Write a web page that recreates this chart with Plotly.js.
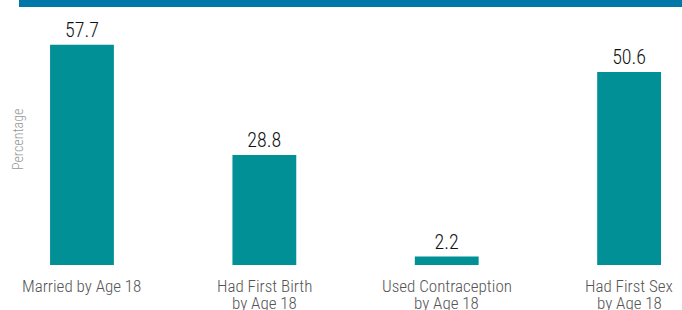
<!DOCTYPE html>
<html>
<head>
<meta charset="utf-8">
<script src="https://cdn.plot.ly/plotly-3.0.1.min.js"></script>
<style>
html,body{margin:0;padding:0;background:#fff;}
#chart{width:682px;height:310px;}
#chart text{font-stretch:condensed;}
</style>
</head>
<body>
<div id="chart"></div>
<script>
const categories = ["Married by Age 18", "Had First Birth by Age 18", "Used Contraception by Age 18", "Had First Sex by Age 18"];
const labelLine1 = ["Married by Age 18", "Had First Birth", "Used Contraception", "Had First Sex"];
const labelLine2 = ["", "by Age 18", "by Age 18", "by Age 18"];
const values = [57.7, 28.8, 2.2, 50.6];
const valueLabels = ["57.7", "28.8", "2.2", "50.6"];
const yTitle = "Percentage";

const LFONT = "'Roboto Condensed', 'Open Sans', sans-serif";
const xIdx = categories.map((c, i) => i);

// plot area: top 36, bottom 265 (229 px tall)
const pyToPaper = py => (265 - py) / 229;

const trace = {
  type: "bar",
  x: xIdx,
  y: values,
  width: 0.35,
  marker: {color: "#009096"},
  text: valueLabels,
  textposition: "outside",
  textfont: {family: LFONT, size: 20, color: "#111", weight: 300},
  cliponaxis: false,
  hoverinfo: "none"
};

const annotations = [{
  text: yTitle, xref: "paper", yref: "paper",
  x: (18 - 30) / 652, y: pyToPaper(140),
  showarrow: false, textangle: -90,
  font: {family: LFONT, size: 14, color: "#999", weight: 300},
  xanchor: "center", yanchor: "middle"
}];
xIdx.forEach(i => {
  annotations.push({
    text: labelLine1[i], xref: "x", yref: "paper", x: i, y: pyToPaper(274),
    showarrow: false, xanchor: "center", yanchor: "top",
    font: {family: LFONT, size: 17, color: "#555", weight: 300}
  });
  if (labelLine2[i]) annotations.push({
    text: labelLine2[i], xref: "x", yref: "paper", x: i, y: pyToPaper(291),
    showarrow: false, xanchor: "center", yanchor: "top",
    font: {family: LFONT, size: 17, color: "#555", weight: 300}
  });
});

const layout = {
  width: 682, height: 310,
  margin: {l: 30, r: 0, t: 36, b: 45, pad: 0},
  paper_bgcolor: "#fff", plot_bgcolor: "#fff",
  showlegend: false,
  xaxis: {
    range: [-0.285, 3.29],
    tickmode: "array", tickvals: xIdx, ticktext: categories,
    showticklabels: false, ticks: "",
    showgrid: false, zeroline: false, showline: false, fixedrange: true
  },
  yaxis: {
    range: [0, 60], showticklabels: false, showgrid: false,
    zeroline: false, showline: false, ticks: "", fixedrange: true
  },
  annotations: annotations,
  shapes: [{
    type: "rect", xref: "paper", yref: "paper",
    x0: (19 - 30) / 652, x1: 1.0,
    y0: pyToPaper(7), y1: pyToPaper(-2),
    fillcolor: "#0077A8", line: {width: 0}, layer: "above"
  }]
};

Plotly.newPlot("chart", [trace], layout, {displayModeBar: false, staticPlot: true});
</script>
</body>
</html>
